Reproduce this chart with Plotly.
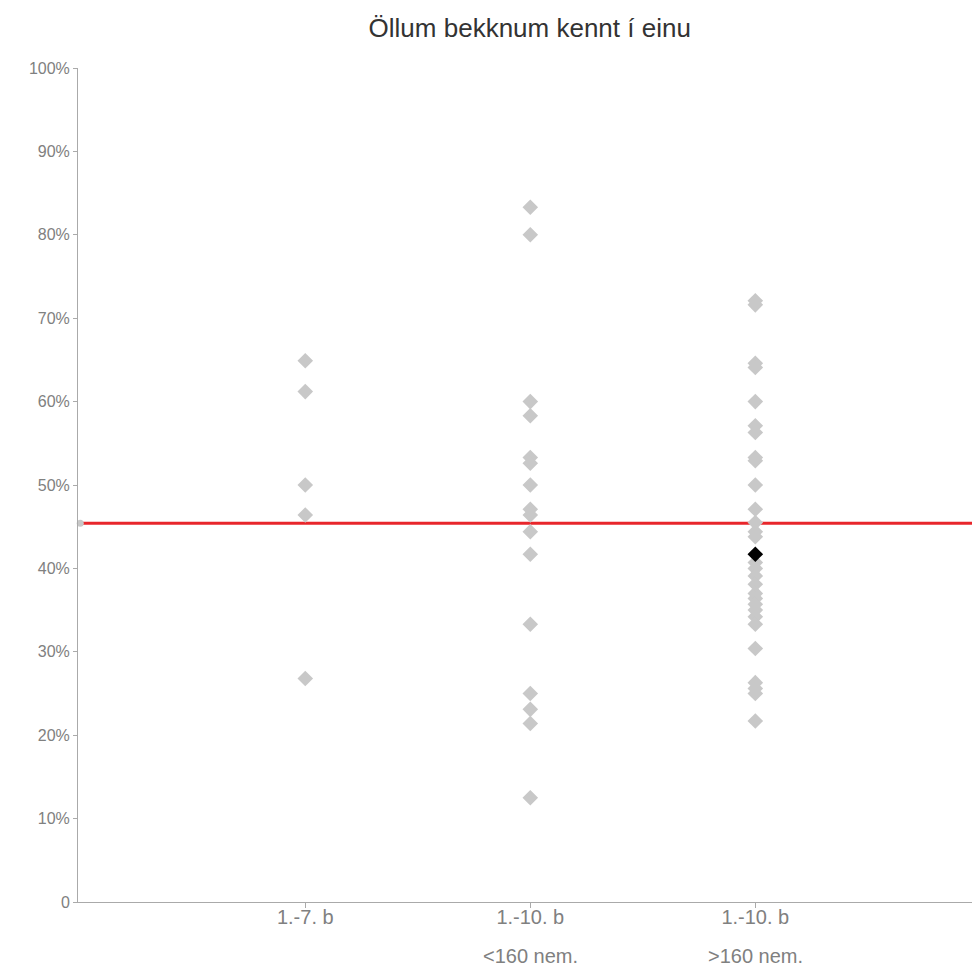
import plotly.graph_objects as go

title = "Öllum bekknum kennt í einu"
cat_pos = [1, 2, 3]
cat_line1 = ["1.-7. b", "1.-10. b", "1.-10. b"]
cat_line2 = ["", "<160 nem.", ">160 nem."]

grp1 = [64.9, 61.2, 50.0, 46.4, 26.8]
grp2 = [83.3, 80.0, 60.0, 58.3, 53.3, 52.6, 50.0, 47.1, 46.4, 44.4, 41.7, 33.3, 25.0, 23.1, 21.4, 12.5]
grp3 = [72.1, 71.6, 64.6, 64.1, 60.0, 57.1, 56.3, 53.3, 52.9, 50.0, 47.1, 45.5, 44.4, 43.8,
        40.7, 40.0, 39.1, 38.1, 37.0, 36.4, 35.7, 35.0, 34.2, 33.3, 30.4, 26.3, 25.6, 25.0, 21.7]
highlight_val = 41.7
highlight_pos = 3
avg_val = 45.4

y_ticks = [0, 10, 20, 30, 40, 50, 60, 70, 80, 90, 100]
y_ticktext = ["0", "10%", "20%", "30%", "40%", "50%", "60%", "70%", "80%", "90%", "100%"]

grey = "#c8c8c8"
tick_color = "#808080"
fig = go.Figure()

# average line
fig.add_trace(go.Scatter(x=[0, 4], y=[avg_val, avg_val], mode="lines",
                         line=dict(color="#e8262b", width=3), hoverinfo="skip", showlegend=False))
fig.add_trace(go.Scatter(x=[0], y=[avg_val], mode="markers",
                         marker=dict(color="#c8c8c8", size=7), showlegend=False, cliponaxis=False))

for pos, vals in zip(cat_pos, [grp1, grp2, grp3]):
    fig.add_trace(go.Scatter(x=[pos] * len(vals), y=vals, mode="markers",
                             marker=dict(symbol="diamond", size=12, color=grey),
                             showlegend=False))

fig.add_trace(go.Scatter(x=[highlight_pos], y=[highlight_val], mode="markers",
                         marker=dict(symbol="diamond", size=12, color="#000000"),
                         showlegend=False))

for pos, t in zip(cat_pos, cat_line2):
    if t:
        fig.add_annotation(x=pos, y=0, xref="x", yref="y", text=t, showarrow=False,
                           yanchor="middle", yshift=-54, font=dict(size=20, color=tick_color))

fig.update_layout(
    width=972, height=970,
    margin=dict(l=78, r=0, t=68, b=68),
    plot_bgcolor="white", paper_bgcolor="white",
    font=dict(family="Liberation Sans, Arial, sans-serif", color=tick_color, size=18),
    title=dict(text=title, x=0.545, xanchor="center", y=0.971, yanchor="middle",
               font=dict(size=26, color="#333333")),
    xaxis=dict(range=[-0.01, 3.963], tickvals=cat_pos, ticktext=cat_line1, showgrid=False,
               zeroline=False, showline=True, linecolor="#aaaaaa", linewidth=1,
               ticks="outside", ticklen=5, tickcolor="#aaaaaa", ticklabelstandoff=-8,
               tickfont=dict(size=20, color=tick_color)),
    yaxis=dict(range=[0, 100], tickvals=y_ticks, ticktext=y_ticktext, showgrid=False,
               zeroline=False, showline=True, linecolor="#aaaaaa", linewidth=1,
               ticks="outside", ticklen=4, tickcolor="#aaaaaa",
               tickfont=dict(size=16, color=tick_color)),
)

fig.write_html("out.html", config={"displayModeBar": False},
               post_script="document.body.style.margin='0';document.body.style.overflow='hidden';")
